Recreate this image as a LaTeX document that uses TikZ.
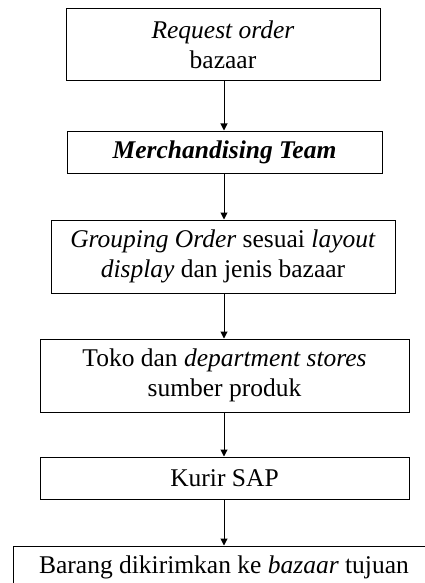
\documentclass[tikz,border=0pt]{standalone}
\usepackage{fontspec}
\setmainfont{Liberation Serif}
\usetikzlibrary{arrows.meta}
\begin{document}
\begin{tikzpicture}[x=1pt,y=-1pt,
  box/.style={draw,line width=1pt,rectangle,align=center,inner sep=0pt,
    font=\fontsize{25.5}{30}\selectfont},
  arr/.style={line width=1pt,-{Triangle[length=7pt,width=7pt]}}]
\useasboundingbox (0,0) rectangle (424,583);
\node[box,minimum width=314pt,minimum height=72pt] (b1) at (223,45) {\textit{Request order}\\bazaar};
\node[box,minimum width=315pt,minimum height=42pt] (b2) at (224.5,152) {\textbf{\textit{Merchandising Team}}};
\node[box,minimum width=344pt,minimum height=73pt] (b3) at (223,256.5) {\textit{Grouping Order} sesuai \textit{layout}\\\textit{display} dan jenis bazaar};
\node[box,minimum width=369pt,minimum height=73pt] (b4) at (224.5,375.5) {Toko dan \textit{department stores}\\sumber produk};
\node[box,minimum width=369pt,minimum height=42pt] (b5) at (224.5,478) {Kurir SAP};
\node[box,minimum width=422pt,minimum height=42pt] (b6) at (224,567) {Barang dikirimkan ke \textit{bazaar} tujuan};
\coordinate (ax) at (224,0);
\draw[arr] (b1.south -| ax) -- (b2.north -| ax);
\draw[arr] (b2.south -| ax) -- (b3.north -| ax);
\draw[arr] (b3.south -| ax) -- (b4.north -| ax);
\draw[arr] (b4.south -| ax) -- (b5.north -| ax);
\draw[arr] (b5.south -| ax) -- (b6.north -| ax);
\end{tikzpicture}
\end{document}
